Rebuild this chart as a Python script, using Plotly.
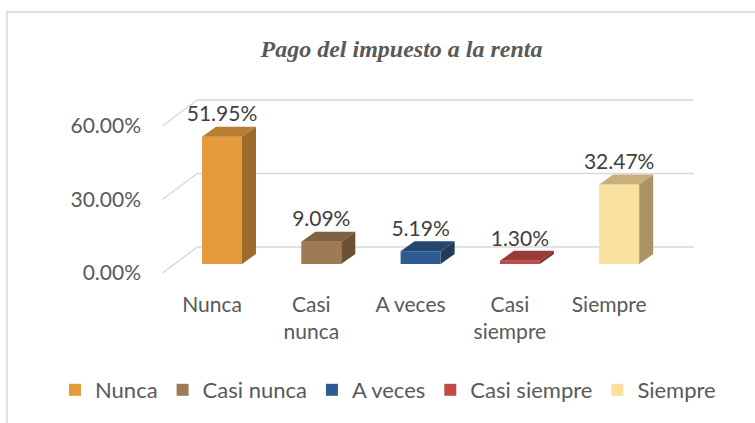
import plotly.graph_objects as go

# ---------------- data ----------------
categories = ["Nunca", "Casi nunca", "A veces", "Casi siempre", "Siempre"]
tick_labels = ["Nunca", "Casi<br>nunca", "A veces", "Casi<br>siempre", "Siempre"]
values = [51.95, 9.09, 5.19, 1.30, 32.47]
y_ticks = [0, 30, 60]
y_tick_labels = ["0.00%", "30.00%", "60.00%"]
title_text = "Pago del impuesto a la renta"

# ---------------- style ----------------
front_colors = ["#E59B3B", "#9F7B55", "#2E5C92", "#C24B48", "#FAE09E"]
top_colors = ["#B97E31", "#7F6242", "#23476F", "#983B39", "#C9B07A"]
side_colors = ["#9C6A2A", "#6B5237", "#1F3C5E", "#7F302E", "#A99468"]
FONT = "Lato, 'Open Sans', sans-serif"
FS = 21
TXT = "#595959"
GRID = "#D9D9D9"

W, H = 755, 423
PL, PR, PT, PB = 150, 700, 80, 290          # plot area in pixels
PX_PER_CAT, PX_PER_PCT = 99.3, 2.45
LABEL_X0, BAR_X0 = 212, 222                 # px of category 0 (front plane / bar face)
FRONT_Y0, BAR_Y0 = 273, 264                 # px of 0% (front plane / bar face)

DEPTH_X, DEPTH_Y = 35 / PX_PER_CAT, 26 / PX_PER_PCT   # floor depth (projection)
BAR_DX, BAR_DY = 14 / PX_PER_CAT, 10 / PX_PER_PCT     # bar depth (projection)
BAR_W = 40 / PX_PER_CAT


def xr(x0px):
    return [(PL - x0px) / PX_PER_CAT, (PR - x0px) / PX_PER_CAT]


def yr(y0px):
    return [(y0px - PB) / PX_PER_PCT, (y0px - PT) / PX_PER_PCT]


fig = go.Figure()

# walls' gridlines (side wall + back wall), on front-plane axes
gx, gy = [], []
n = len(categories)
for v in y_ticks:
    gx += [-0.5, -0.5 + DEPTH_X, n - 0.5 + DEPTH_X, None]
    gy += [v, v + DEPTH_Y, v + DEPTH_Y, None]
fig.add_trace(go.Scatter(x=gx, y=gy, mode="lines", line=dict(color=GRID, width=1.5),
                         showlegend=False, hoverinfo="skip"))

# bars (front faces)
for i, (c, v) in enumerate(zip(categories, values)):
    fig.add_trace(go.Bar(x=[i], y=[v], width=BAR_W, name=c,
                         marker=dict(color=front_colors[i], line=dict(width=0)),
                         xaxis="x2", yaxis="y2", hovertemplate=f"{c}: %{{y:.2f}}%<extra></extra>"))

# 3D faces (top + side) computed from values
for i, v in enumerate(values):
    l, r = i - BAR_W / 2, i + BAR_W / 2
    fig.add_trace(go.Scatter(
        x=[l, r, r + BAR_DX, l + BAR_DX, l], y=[v, v, v + BAR_DY, v + BAR_DY, v],
        fill="toself", fillcolor=top_colors[i], mode="lines", line=dict(width=0),
        xaxis="x2", yaxis="y2", showlegend=False, hoverinfo="skip"))
    fig.add_trace(go.Scatter(
        x=[r, r + BAR_DX, r + BAR_DX, r, r], y=[0, BAR_DY, v + BAR_DY, v, 0],
        fill="toself", fillcolor=side_colors[i], mode="lines", line=dict(width=0),
        xaxis="x2", yaxis="y2", showlegend=False, hoverinfo="skip"))

# data labels
fig.add_trace(go.Scatter(
    x=list(range(n)), y=[v + BAR_DY for v in values], mode="text",
    text=[f"{v:.2f}%" for v in values], textposition="top center",
    textfont=dict(family=FONT, size=FS, color="#404040"),
    xaxis="x2", yaxis="y2", showlegend=False, hoverinfo="skip"))

fig.update_layout(
    width=W, height=H, margin=dict(l=0, r=0, t=0, b=0),
    paper_bgcolor="white", plot_bgcolor="rgba(0,0,0,0)",
    barmode="overlay",
    title=dict(text=f"<b><i>{title_text}</i></b>", x=401.5 / W, y=(H - 49) / H,
               xanchor="center", yanchor="middle", xref="paper", yref="paper",
               font=dict(family="'Liberation Serif', 'Times New Roman', serif", size=24, color=TXT)),
    xaxis=dict(domain=[PL / W, PR / W], range=xr(LABEL_X0), tickmode="array",
               tickvals=list(range(n)), ticktext=tick_labels, showgrid=False, zeroline=False,
               showline=False, ticks="", automargin=False, fixedrange=True,
               tickfont=dict(family=FONT, size=FS, color=TXT)),
    xaxis2=dict(overlaying="x", range=xr(BAR_X0), visible=False, fixedrange=True),
    yaxis=dict(domain=[(H - PB) / H, (H - PT) / H], range=yr(FRONT_Y0), tickmode="array",
               tickvals=y_ticks, ticktext=y_tick_labels, showgrid=False, ticklabelstandoff=8,
               zeroline=False, showline=False, ticks="", automargin=False, fixedrange=True,
               tickfont=dict(family=FONT, size=FS, color=TXT)),
    yaxis2=dict(overlaying="y", range=yr(BAR_Y0), visible=False, fixedrange=True),
    legend=dict(orientation="h", x=55 / W, xanchor="left", y=(H - 390) / H, yanchor="middle",
                font=dict(family=FONT, size=22, color=TXT), traceorder="normal",
                bgcolor="rgba(0,0,0,0)"),
    shapes=[dict(type="rect", xref="paper", yref="paper", x0=7 / W, x1=1.05,
                 y0=-0.05, y1=(H - 12) / H, line=dict(color=GRID, width=1.5),
                 layer="below")],
)

fig.write_html("out.html", config={"displayModeBar": False},
               post_script="document.body.style.margin='0';")
